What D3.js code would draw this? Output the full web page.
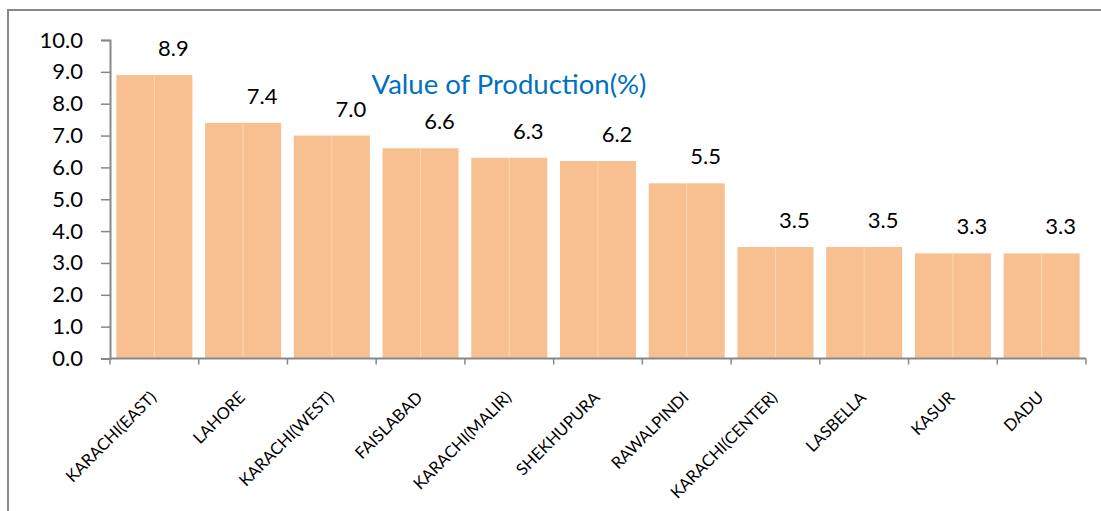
<!DOCTYPE html>
<html>
<head>
<meta charset="utf-8">
<script src="https://cdn.jsdelivr.net/npm/d3@7"></script>
<style>
  html, body { margin: 0; padding: 0; background: #fff; }
  svg { display: block; }
  text { font-family: Lato, "Open Sans", sans-serif; }
</style>
</head>
<body>
<svg id="chart" width="1101" height="511"></svg>
<script>
const categories = ["KARACHI(EAST)", "LAHORE", "KARACHI(WEST)", "FAISLABAD", "KARACHI(MALIR)",
  "SHEKHUPURA", "RAWALPINDI", "KARACHI(CENTER)", "LASBELLA", "KASUR", "DADU"];
const values = [8.9, 7.4, 7.0, 6.6, 6.3, 6.2, 5.5, 3.5, 3.5, 3.3, 3.3];
const yTicks = [0, 1, 2, 3, 4, 5, 6, 7, 8, 9, 10];
const title = "Value of Production(%)";

const svg = d3.select("#chart");
const plot = { left: 110, right: 1086, top: 40, bottom: 358.5 };

// outer frame (cropped)
svg.append("rect")
  .attr("x", 8).attr("y", 10)
  .attr("width", 1200).attr("height", 600)
  .attr("fill", "none").attr("stroke", "#898989").attr("stroke-width", 2);

const x = d3.scaleBand().domain(categories)
  .range([plot.left, plot.right])
  .paddingInner(0.143).paddingOuter(0.0715);
const xb = d3.scaleBand().domain(categories)
  .range([plot.left, plot.right]).padding(0);
const y = d3.scaleLinear().domain([0, 10]).range([plot.bottom, plot.top]);

// bars
const bars = svg.append("g");
bars.selectAll("rect.bar").data(values).join("rect")
  .attr("class", "bar")
  .attr("x", (d, i) => x(categories[i]))
  .attr("y", d => y(d))
  .attr("width", x.bandwidth())
  .attr("height", d => y(0) - y(d))
  .attr("fill", "#F8C091");
bars.selectAll("line.mid").data(values).join("line")
  .attr("class", "mid")
  .attr("x1", (d, i) => x(categories[i]) + x.bandwidth() / 2)
  .attr("x2", (d, i) => x(categories[i]) + x.bandwidth() / 2)
  .attr("y1", d => y(d)).attr("y2", y(0))
  .attr("stroke", "#FCD6B4").attr("stroke-width", 1);

// value labels
svg.append("g").selectAll("text").data(values).join("text")
  .attr("x", (d, i) => x(categories[i]) + x.bandwidth() / 2 + 19)
  .attr("y", d => y(d) - 19)
  .attr("text-anchor", "middle")
  .attr("font-size", 22)
  .attr("fill", "#000")
  .text(d => d.toFixed(1));

// y axis
const yAxis = d3.axisLeft(y).tickValues(yTicks).tickFormat(d => d.toFixed(1))
  .tickSize(9).tickPadding(18);
const gy = svg.append("g").attr("transform", `translate(${plot.left},0)`).call(yAxis);
gy.select(".domain").attr("stroke", "#888").attr("stroke-width", 2);
gy.selectAll(".tick line").attr("stroke", "#888").attr("stroke-width", 1.5);
gy.selectAll(".tick text").attr("font-size", 22).attr("fill", "#000")
  .style("font-family", "Lato, 'Open Sans', sans-serif");

// x axis line and boundary ticks
const gx = svg.append("g");
gx.append("line")
  .attr("x1", plot.left).attr("x2", plot.right)
  .attr("y1", y(0)).attr("y2", y(0))
  .attr("stroke", "#888").attr("stroke-width", 2);
const bounds = categories.map(c => xb(c)).concat([xb(categories[categories.length - 1]) + xb.bandwidth()]);
gx.selectAll("line.tk").data(bounds).join("line")
  .attr("class", "tk")
  .attr("x1", d => d).attr("x2", d => d)
  .attr("y1", y(0)).attr("y2", y(0) + 6)
  .attr("stroke", "#888").attr("stroke-width", 1.5);

// x labels
gx.selectAll("text").data(categories).join("text")
  .attr("transform", c => `translate(${xb(c) + xb.bandwidth() / 2 + 3},${y(0) + 40}) rotate(-45)`)
  .attr("text-anchor", "end")
  .attr("font-size", 16.5)
  .attr("fill", "#000")
  .text(c => c);

// title
svg.append("text")
  .attr("x", 509).attr("y", 94)
  .attr("text-anchor", "middle")
  .attr("font-size", 27.5)
  .attr("fill", "#0070C0")
  .text(title);
</script>
</body>
</html>
